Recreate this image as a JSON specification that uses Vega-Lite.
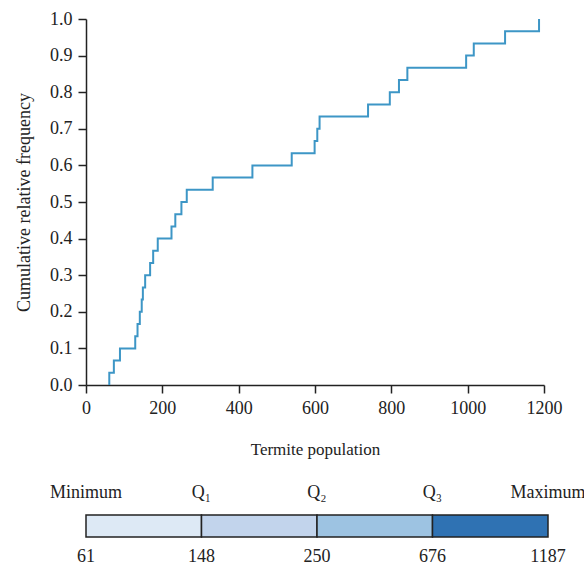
{
  "$schema": "https://vega.github.io/schema/vega-lite/v6.json",
  "padding": {"left": 15, "top": 10, "right": 0, "bottom": 0},
  "spacing": 25,
  "config": {
    "font": "Liberation Serif",
    "view": {"stroke": null},
    "axis": {
      "labelFont": "Liberation Serif",
      "titleFont": "Liberation Serif",
      "labelFontSize": 18,
      "titleFontSize": 17,
      "titleFontWeight": "normal",
      "labelColor": "#222222",
      "titleColor": "#222222",
      "domainColor": "#222222",
      "tickColor": "#222222",
      "domainWidth": 1.5,
      "tickWidth": 1.5,
      "tickSize": 8,
      "labelFlush": false,
      "grid": false
    },
    "text": {"font": "Liberation Serif", "fontSize": 18, "color": "#222222"}
  },
  "datasets": {
    "ecdf": [
      {"population": 61, "cum": 0.0},
      {"population": 61, "cum": 0.0333},
      {"population": 73, "cum": 0.0667},
      {"population": 89, "cum": 0.1},
      {"population": 129, "cum": 0.1333},
      {"population": 135, "cum": 0.1667},
      {"population": 141, "cum": 0.2},
      {"population": 146, "cum": 0.2333},
      {"population": 149, "cum": 0.2667},
      {"population": 155, "cum": 0.3},
      {"population": 168, "cum": 0.3333},
      {"population": 176, "cum": 0.3667},
      {"population": 188, "cum": 0.4},
      {"population": 224, "cum": 0.4333},
      {"population": 234, "cum": 0.4667},
      {"population": 250, "cum": 0.5},
      {"population": 264, "cum": 0.5333},
      {"population": 332, "cum": 0.5667},
      {"population": 436, "cum": 0.6},
      {"population": 539, "cum": 0.6333},
      {"population": 599, "cum": 0.6667},
      {"population": 606, "cum": 0.7},
      {"population": 612, "cum": 0.7333},
      {"population": 739, "cum": 0.7667},
      {"population": 796, "cum": 0.8},
      {"population": 820, "cum": 0.8333},
      {"population": 842, "cum": 0.8667},
      {"population": 996, "cum": 0.9},
      {"population": 1016, "cum": 0.9333},
      {"population": 1098, "cum": 0.9667},
      {"population": 1187, "cum": 1.0}
    ],
    "segments": [
      {"segment": "Minimum–Q1", "lo": 0, "hi": 1},
      {"segment": "Q1–Q2", "lo": 1, "hi": 2},
      {"segment": "Q2–Q3", "lo": 2, "hi": 3},
      {"segment": "Q3–Maximum", "lo": 3, "hi": 4}
    ],
    "summary": [
      {"label": "Minimum", "value": 61, "rank": 0},
      {"label": "Q₁", "value": 148, "rank": 1},
      {"label": "Q₂", "value": 250, "rank": 2},
      {"label": "Q₃", "value": 676, "rank": 3},
      {"label": "Maximum", "value": 1187, "rank": 4}
    ]
  },
  "vconcat": [
    {
      "width": 458,
      "height": 366,
      "data": {"name": "ecdf"},
      "mark": {"type": "line", "interpolate": "step-after", "color": "#3d96c6", "strokeWidth": 2},
      "encoding": {
        "x": {
          "field": "population", "type": "quantitative",
          "scale": {"domain": [0, 1200], "nice": false},
          "axis": {"values": [0, 200, 400, 600, 800, 1000, 1200], "format": "d", "title": "Termite population", "titlePadding": 24, "labelPadding": 6}
        },
        "y": {
          "field": "cum", "type": "quantitative",
          "scale": {"domain": [0, 1], "nice": false},
          "axis": {"values": [0, 0.1, 0.2, 0.3, 0.4, 0.5, 0.6, 0.7, 0.8, 0.9, 1.0], "format": ".1f", "title": "Cumulative relative frequency", "titleFontSize": 18, "titlePadding": 16, "labelPadding": 6}
        },
        "order": {"field": "cum", "type": "quantitative"}
      }
    },
    {
      "width": 462,
      "height": 80,
      "layer": [
        {
          "data": {"name": "segments"},
          "mark": {"type": "rect", "stroke": "#222222", "strokeWidth": 1.5},
          "encoding": {
            "x": {"field": "lo", "type": "quantitative", "scale": {"domain": [0, 4], "nice": false}, "axis": null},
            "x2": {"field": "hi"},
            "y": {"datum": 0.3125, "type": "quantitative", "scale": {"domain": [0, 1], "nice": false}, "axis": null},
            "y2": {"datum": 0.5875},
            "fill": {
              "field": "segment", "type": "nominal",
              "scale": {"domain": ["Minimum–Q1", "Q1–Q2", "Q2–Q3", "Q3–Maximum"], "range": ["#dde9f5", "#c2d4ec", "#9dc3e2", "#2f72b3"]},
              "legend": null
            }
          }
        },
        {
          "data": {"name": "summary"},
          "mark": {"type": "text", "baseline": "middle", "align": "center"},
          "encoding": {
            "x": {"field": "rank", "type": "quantitative"},
            "y": {"datum": 0.8625, "type": "quantitative"},
            "text": {"field": "label"}
          }
        },
        {
          "data": {"name": "summary"},
          "mark": {"type": "text", "baseline": "middle", "align": "center"},
          "encoding": {
            "x": {"field": "rank", "type": "quantitative"},
            "y": {"datum": 0.0625, "type": "quantitative"},
            "text": {"field": "value", "type": "quantitative"}
          }
        }
      ]
    }
  ]
}
